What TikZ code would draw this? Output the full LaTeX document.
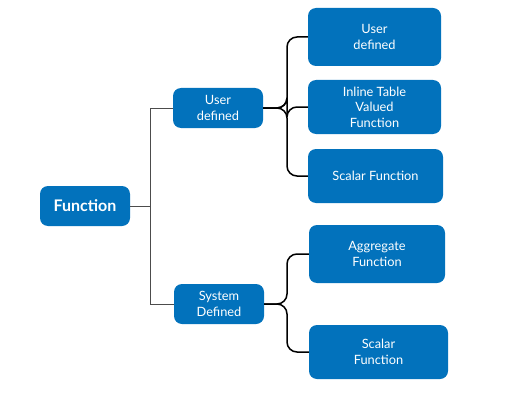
\documentclass[tikz,border=0pt]{standalone}
\usepackage{fontspec}
\setmainfont{Lato}
\definecolor{boxblue}{RGB}{2,114,188}
\tikzset{
  fbox/.style={draw=none, fill=boxblue, text=white, rounded corners=8pt,
    align=center, inner sep=0pt, font=\fontsize{12.8}{15.5}\selectfont},
  trunk/.style={draw=black!70, line width=0.9pt},
  brace/.style={draw=black, line width=1.5pt, rounded corners=10pt}
}
\begin{document}
\begin{tikzpicture}[x=1pt, y=-1pt]
        \useasboundingbox (0,0) rectangle (505,401);
        % root and first level
        \node[fbox, minimum width=90pt, minimum height=40pt, font=\fontsize{16}{19}\selectfont\bfseries] (func) at (85,206) {Function};
        \node[fbox, minimum width=90pt, minimum height=40pt] (user) at (218,108) {User\\defined};
        \node[fbox, minimum width=90pt, minimum height=40pt] (sys) at (219,304) {System\\Defined};
        % second level
        \node[fbox, minimum width=133pt, minimum height=58pt] (udf) at (374.5,37) {User\\defined};
        \node[fbox, minimum width=133pt, minimum height=54pt] (itvf) at (374.5,107) {Inline Table\\Valued\\Function};
        \node[fbox, minimum width=135pt, minimum height=54pt] (scal) at (375.5,176) {Scalar Function};
        \node[fbox, minimum width=136pt, minimum height=58pt] (aggr) at (377,254) {Aggregate\\Function};
        \node[fbox, minimum width=139pt, minimum height=54pt] (sscal) at (378.5,352) {Scalar\\Function};
        % connectors
        \coordinate (split) at (150,206);
        \draw[trunk] (func.east) -- (split);
        \draw[trunk] (split) |- (user.west);
        \draw[trunk] (split) |- (sys.west);
        \foreach \kid in {udf,itvf,scal}
        {
            \draw[brace] (user.east) -- (287,108) |- (\kid.west);
        }
        \foreach \kid in {aggr,sscal}
        {
            \draw[brace] (sys.east) -- (287,304) |- (\kid.west);
        }
    \end{tikzpicture}
\end{document}
